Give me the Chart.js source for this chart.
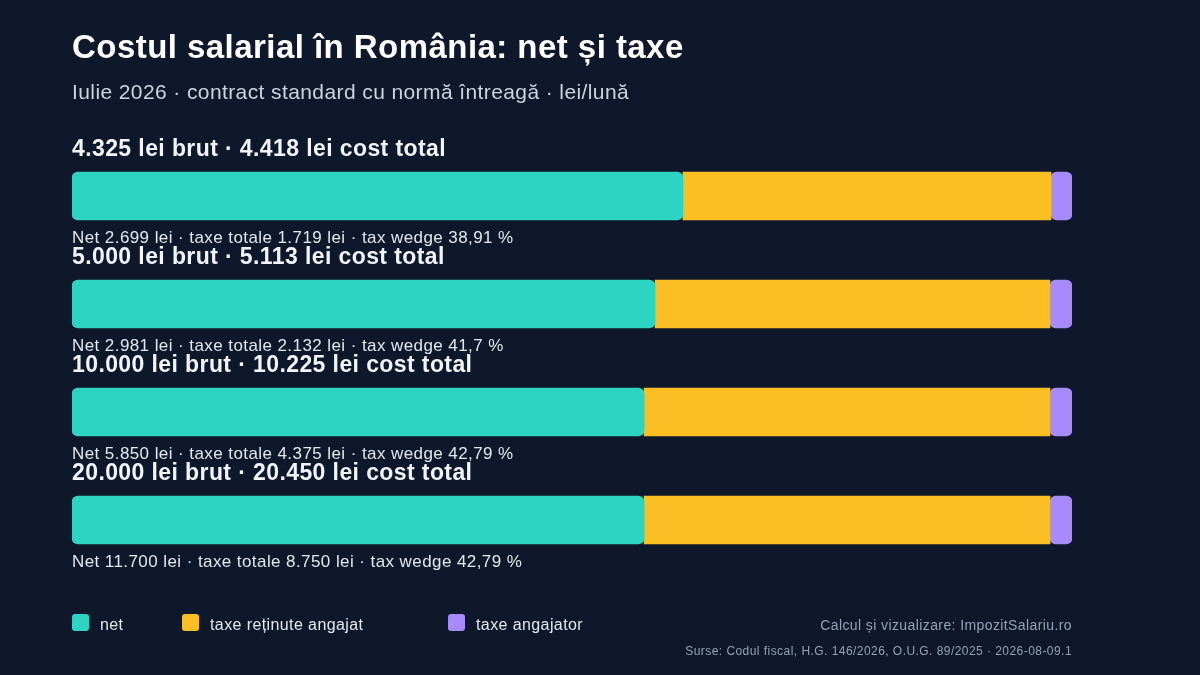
<!DOCTYPE html>
<html lang="ro">
<head>
<meta charset="utf-8">
<title>Costul salarial în România: net și taxe</title>
<script src="https://cdn.jsdelivr.net/npm/chart.js@4.4.1/dist/chart.umd.min.js"></script>
<style>
  html, body { margin: 0; padding: 0; background: #0f172a; }
  #wrap { position: relative; width: 1200px; height: 675px; }
</style>
</head>
<body>
<div id="wrap"><canvas id="chart" width="1200" height="675"></canvas></div>
<script>
// values in lei / month
const grossSalary = [4325, 5000, 10000, 20000];
const totalCost = [4418, 5113, 10225, 20450];
const netPay = [2699, 2981, 5850, 11700];
const employeeTaxes = [1626, 2019, 4150, 8300];
const employerTaxes = [93, 113, 225, 450];

const seriesNames = ["net", "taxe reținute angajat", "taxe angajator"];
const seriesColors = ["#2dd4bf", "#fbbf24", "#a78bfa"];

const FONT = "'Liberation Sans', Arial, Helvetica, sans-serif";

function fmt(n) {
  return String(n).replace(/\B(?=(\d{3})+(?!\d))/g, ".");
}
function pct(n) {
  return n.toFixed(2).replace(/0+$/, "").replace(/\.$/, "").replace(".", ",");
}

const categories = grossSalary.map((g, i) => fmt(g) + " lei brut · " + fmt(totalCost[i]) + " lei cost total");

// each bar is shown as share of the total cost, segments as [start, end] in %
const parts = [netPay, employeeTaxes, employerTaxes];
function segment(k) {
  return totalCost.map((tc, i) => {
    let start = 0;
    for (let j = 0; j < k; j++) start += parts[j][i];
    return [(start / tc) * 100, ((start + parts[k][i]) / tc) * 100];
  });
}

function text(ctx, str, x, y, font, color, spacing) {
  ctx.font = font;
  ctx.fillStyle = color;
  ctx.letterSpacing = spacing + "px";
  ctx.fillText(str, x, y);
}

const notesPlugin = {
  id: "notes",
  afterDatasetsDraw(chart) {
    const ctx = chart.ctx;
    const meta = chart.getDatasetMeta(0);
    ctx.save();
    ctx.textAlign = "left";
    ctx.textBaseline = "alphabetic";
    meta.data.forEach((bar, i) => {
      const top = bar.y - bar.height / 2;
      const bottom = bar.y + bar.height / 2;
      const x = chart.chartArea.left;
      text(ctx, categories[i], x, top - 16, "bold 23px " + FONT, "#f1f5f9", 0.4);
      const taxes = employeeTaxes[i] + employerTaxes[i];
      const wedge = (taxes / totalCost[i]) * 100;
      text(ctx, "Net " + fmt(netPay[i]) + " lei · taxe totale " + fmt(taxes) + " lei · tax wedge " + pct(wedge) + " %",
        x, bottom + 23, "17px " + FONT, "#e2e8f0", 0.42);
    });

    // title + subtitle
    text(ctx, "Costul salarial în România: net și taxe", 72, 58, "bold 33px " + FONT, "#ffffff", 0.45);
    text(ctx, "Iulie 2026 · contract standard cu normă întreagă · lei/lună", 72, 99, "21px " + FONT, "#cbd5e1", 0.4);

    // legend
    const legendX = [72, 182, 448];
    seriesNames.forEach((name, k) => {
      ctx.fillStyle = seriesColors[k];
      ctx.beginPath();
      ctx.roundRect(legendX[k], 614, 17, 17, 3);
      ctx.fill();
      text(ctx, name, legendX[k] + 28, 630, "16px " + FONT, "#e2e8f0", 0.4);
    });

    // credits
    ctx.textAlign = "right";
    text(ctx, "Calcul și vizualizare: ImpozitSalariu.ro", 1072, 630, "14px " + FONT, "#94a3b8", 0.4);
    text(ctx, "Surse: Codul fiscal, H.G. 146/2026, O.U.G. 89/2025 · 2026-08-09.1", 1072, 655, "12px " + FONT, "#94a3b8", 0.45);
    ctx.restore();
  }
};

new Chart(document.getElementById("chart"), {
  type: "bar",
  data: {
    labels: categories,
    datasets: [
      { label: seriesNames[0], data: segment(0), backgroundColor: seriesColors[0], borderRadius: 6, borderSkipped: false },
      { label: seriesNames[1], data: segment(1), backgroundColor: seriesColors[1], borderRadius: 0, borderSkipped: false },
      { label: seriesNames[2], data: segment(2), backgroundColor: seriesColors[2], borderRadius: 6, borderSkipped: false }
    ]
  },
  options: {
    indexAxis: "y",
    responsive: false,
    animation: false,
    devicePixelRatio: 1,
    grouped: false,
    barThickness: 48,
    layout: { padding: { left: 72, right: 128, top: 142, bottom: 101 } },
    plugins: {
      legend: { display: false },
      tooltip: { enabled: false },
      title: { display: false }
    },
    scales: {
      x: { min: 0, max: 100, display: false },
      y: { display: false }
    }
  },
  plugins: [notesPlugin]
});
</script>
</body>
</html>
